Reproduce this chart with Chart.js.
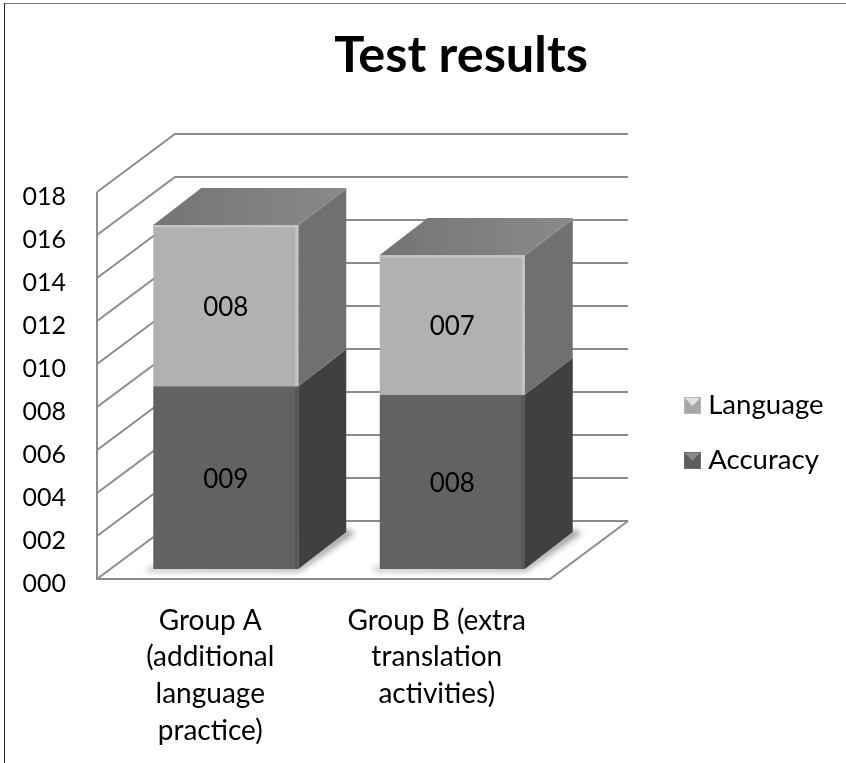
<!DOCTYPE html>
<html>
<head>
<meta charset="utf-8">
<style>
html,body{margin:0;padding:0;background:#fff;overflow:hidden}
#wrap{position:relative;width:846px;height:763px}
#frameTop{position:absolute;left:4px;right:0;top:3px;height:1px;background:#777}
#frameLeft{position:absolute;left:4px;top:3px;bottom:0;width:1px;background:#222}
canvas{position:absolute;left:0;top:0}
</style>
<script src="https://cdn.jsdelivr.net/npm/chart.js@4/dist/chart.umd.min.js"></script>
</head>
<body>
<div id="wrap"><canvas id="c" width="846" height="763"></canvas><div id="frameTop"></div><div id="frameLeft"></div></div>
<script>
const categories = [
  ["Group A", "(additional", "language", "practice)"],
  ["Group B (extra", "translation", "activities)"]
];
const accuracy = [8.5, 8.1];
const language = [7.5, 6.5];
const tickStep = 2;
const yMax = 18;

const FONT = "Lato, Carlito, sans-serif";
const wallDepth = {x: 78, y: -58};
const barDepth = {x: 48, y: -37};
const barShift = {x: 15.5, y: -10};
const faces = [
  {front: "#626262", side: "#404040", edge: "#565656"},
  {front: "#b1b1b1", side: "#707070", edge: "#c4c4c4", topA: "#747474", topB: "#8a8a8a"}
];

function markerCanvas(base, light, dark) {
  const cv = document.createElement("canvas");
  cv.width = 17; cv.height = 17;
  const g = cv.getContext("2d");
  g.fillStyle = base; g.fillRect(0, 0, 17, 17);
  g.fillStyle = light;
  g.beginPath(); g.moveTo(1, 1); g.lineTo(16, 1); g.lineTo(8.5, 9); g.closePath(); g.fill();
  g.strokeStyle = dark; g.lineWidth = 1; g.strokeRect(0.5, 0.5, 16, 16);
  return cv;
}
const markers = [markerCanvas("#5c5c5c", "#8a8a8a", "#6e6e6e"), markerCanvas("#a8a8a8", "#e4e4e4", "#b4b4b4")];

const scene = {
  id: "scene",
  beforeLayout(chart) {
    const lg = chart.legend;
    if (lg && !lg._patched) {
      const fit = lg.fit;
      lg.fit = function () { fit.call(this); this.width = 296; };
      lg._patched = true;
    }
  },
  afterLayout(chart) {
    const t = chart.titleBlock;
    t.left += 38; t.right += 38;
    const lg = chart.legend;
    lg.left = 663; lg.right = 846;
    lg.top += 51.5; lg.bottom += 51.5;
  },
  beforeDatasetsDraw(chart) {
    const {ctx, scales: {x, y}} = chart;
    const L = x.left, R = x.right, B = y.getPixelForValue(0);
    ctx.save();
    ctx.strokeStyle = "#8c8c8c";
    ctx.lineWidth = 2;
    ctx.lineJoin = "miter";
    y.ticks.forEach(tk => {
      const py = y.getPixelForValue(tk.value);
      ctx.beginPath();
      ctx.moveTo(L, py);
      ctx.lineTo(L + wallDepth.x, py + wallDepth.y);
      ctx.lineTo(R + wallDepth.x, py + wallDepth.y);
      ctx.stroke();
    });
    ctx.beginPath();
    ctx.moveTo(L, y.getPixelForValue(yMax));
    ctx.lineTo(L, B);
    ctx.lineTo(R, B);
    ctx.lineTo(R + wallDepth.x, B + wallDepth.y);
    ctx.stroke();

    const m0 = chart.getDatasetMeta(0);
    const mLast = chart.getDatasetMeta(chart.data.datasets.length - 1);
    // floor shadow
    m0.data.forEach(el => {
      const xl = el.x - el.width / 2 + barShift.x, xr = el.x + el.width / 2 + barShift.x;
      const by = el.base + barShift.y;
      ctx.save();
      ctx.filter = "blur(3px)";
      ctx.fillStyle = "#9a9a9a";
      ctx.beginPath();
      ctx.moveTo(xl - 6, by + 2);
      ctx.lineTo(xr + 1, by + 2);
      ctx.lineTo(xr + barDepth.x + 9, by + barDepth.y + 1);
      ctx.lineTo(xr + barDepth.x, by + barDepth.y - 3);
      ctx.lineTo(xr, by - 3);
      ctx.lineTo(xl - 6, by - 1);
      ctx.closePath();
      ctx.fill();
      ctx.restore();
    });
    // side faces
    chart.data.datasets.forEach((ds, di) => {
      chart.getDatasetMeta(di).data.forEach(el => {
        const xr = el.x + el.width / 2 + barShift.x;
        const top = el.y + barShift.y, bot = el.base + barShift.y;
        ctx.fillStyle = faces[di].side;
        ctx.beginPath();
        ctx.moveTo(xr, top);
        ctx.lineTo(xr + barDepth.x, top + barDepth.y);
        ctx.lineTo(xr + barDepth.x, bot + barDepth.y);
        ctx.lineTo(xr, bot);
        ctx.closePath();
        ctx.fill();
      });
    });
    // top faces
    mLast.data.forEach(el => {
      const xl = el.x - el.width / 2 + barShift.x, xr = el.x + el.width / 2 + barShift.x;
      const top = el.y + barShift.y;
      const grad = ctx.createLinearGradient(xl, 0, xr + barDepth.x, 0);
      grad.addColorStop(0, faces[1].topA);
      grad.addColorStop(1, faces[1].topB);
      ctx.fillStyle = grad;
      ctx.beginPath();
      ctx.moveTo(xl, top);
      ctx.lineTo(xl + barDepth.x, top + barDepth.y);
      ctx.lineTo(xr + barDepth.x - 2, top + barDepth.y);
      ctx.quadraticCurveTo(xr + barDepth.x, top + barDepth.y, xr + barDepth.x, top + barDepth.y + 2);
      ctx.lineTo(xr, top);
      ctx.closePath();
      ctx.fill();
      ctx.strokeStyle = "#8f8f8f";
      ctx.lineWidth = 1.5;
      ctx.beginPath();
      ctx.moveTo(xr, top);
      ctx.lineTo(xr + barDepth.x, top + barDepth.y + 1);
      ctx.stroke();
    });
    ctx.restore();
    ctx.save();
    ctx.translate(barShift.x, barShift.y);
  },
  afterDatasetsDraw(chart) {
    const ctx = chart.ctx;
    ctx.restore();
    ctx.save();
    chart.data.datasets.forEach((ds, di) => {
      chart.getDatasetMeta(di).data.forEach((el, i) => {
        const xl = el.x - el.width / 2 + barShift.x, xr = el.x + el.width / 2 + barShift.x;
        const top = el.y + barShift.y, bot = el.base + barShift.y;
        ctx.fillStyle = faces[di].edge;
        ctx.fillRect(xr - 3, top, 3, bot - top);
        if (di === chart.data.datasets.length - 1) {
          ctx.fillStyle = faces[di].edge;
          ctx.fillRect(xl, top, xr - xl, 2.5);
        }
        ctx.fillStyle = "#000";
        ctx.font = "26px " + FONT;
        ctx.textAlign = "center";
        ctx.textBaseline = "middle";
        ctx.fillText(String(Math.round(ds.data[i])).padStart(3, "0"), el.x + barShift.x, (top + bot) / 2 + 2);
      });
    });
    ctx.restore();
  }
};

new Chart(document.getElementById("c"), {
  type: "bar",
  data: {
    labels: categories,
    datasets: [
      {label: "Accuracy", data: accuracy, backgroundColor: faces[0].front, borderWidth: 0},
      {label: "Language", data: language, backgroundColor: faces[1].front, borderWidth: 0}
    ]
  },
  plugins: [scene],
  options: {
    responsive: false,
    animation: false,
    events: [],
    layout: {padding: 0},
    datasets: {bar: {categoryPercentage: 1, barPercentage: 0.64}},
    scales: {
      x: {
        stacked: true,
        grid: {display: false},
        border: {display: false},
        afterFit(s) { s.height = 184; },
        ticks: {color: "#000", padding: 15, maxRotation: 0, autoSkip: false, font: {family: FONT, size: 28, lineHeight: 1.32}}
      },
      y: {
        stacked: true,
        min: 0, max: yMax,
        grid: {display: false},
        border: {display: false},
        afterFit(s) { s.width = 97; },
        ticks: {
          stepSize: tickStep, color: "#000", padding: 23, labelOffset: 5,
          font: {family: FONT, size: 25},
          callback: v => String(v).padStart(3, "0")
        }
      }
    },
    plugins: {
      tooltip: {enabled: false},
      title: {
        display: true, text: "Test results", color: "#000",
        font: {family: FONT, size: 50.5, weight: "bold"},
        padding: {top: 25, bottom: 106.4}
      },
      legend: {
        position: "right", reverse: true,
        labels: {
          color: "#000", usePointStyle: true, boxWidth: 4, boxHeight: 12, padding: 27.4,
          font: {family: FONT, size: 27.6},
          generateLabels(chart) {
            const items = Chart.defaults.plugins.legend.labels.generateLabels(chart);
            items.forEach(it => { it.pointStyle = markers[it.datasetIndex]; });
            return items;
          }
        }
      }
    }
  }
});
</script>
</body>
</html>
